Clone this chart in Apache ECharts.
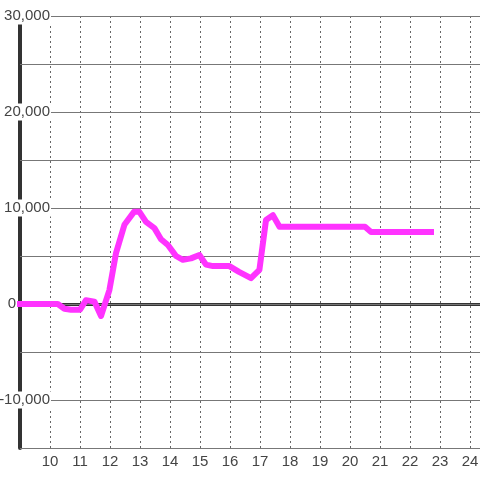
<!DOCTYPE html>
<html>
<head>
<meta charset="utf-8">
<script src="https://cdn.jsdelivr.net/npm/echarts@6/dist/echarts.min.js"></script>
<style>
  html, body { margin: 0; padding: 0; background: #fff; }
  #chart { width: 480px; height: 480px; }
</style>
</head>
<body>
<div id="chart"></div>
<script>
// values
const xValues = [9, 10.26, 10.48, 10.7, 11.0, 11.2, 11.48, 11.7, 11.98, 12.2, 12.48, 12.8, 12.98,
  13.2, 13.48, 13.7, 13.93, 14.2, 14.43, 14.7, 14.98, 15.2, 15.43, 15.98, 16.3, 16.7, 16.98,
  17.2, 17.43, 17.65, 20.5, 20.7, 22.7];
const yValues = [0, 0, -500, -600, -600, 400, 250, -1250, 1450, 5300, 8250, 9600, 9600,
  8550, 7900, 6750, 6150, 5000, 4600, 4750, 5100, 4100, 3950, 3950, 3350, 2700, 3550,
  8750, 9250, 8050, 8050, 7500, 7500];
const xTicks = [10, 11, 12, 13, 14, 15, 16, 17, 18, 19, 20, 21, 22, 23, 24];
const yTicks = [-10000, 0, 10000, 20000, 30000];

const chart = echarts.init(document.getElementById("chart"));
const font = "'Liberation Sans', Arial, sans-serif";

const option = {
  animation: false,
  backgroundColor: "#fff",
  grid: { left: 20, right: 0, top: 16, bottom: 32, containLabel: false, outerBoundsMode: "none" },
  xAxis: [
    {
      type: "value",
      min: 9,
      max: 24.3333,
      interval: 1,
      axisLine: { onZero: false, lineStyle: { color: "#777", width: 1 } },
      axisTick: { show: false },
      axisLabel: {
        margin: 6,
        color: "#444",
        fontSize: 15,
        fontFamily: font,
        formatter: (v) => (xTicks.includes(v) ? String(v) : ""),
      },
      splitLine: { show: true, lineStyle: { color: "#666", type: [2, 3], width: 1 } },
    },
    {
      // thick zero line
      type: "value",
      position: "top",
      min: 9,
      max: 24.3333,
      axisLine: { onZero: true, lineStyle: { color: "#333", width: 3 } },
      axisTick: { show: false },
      axisLabel: { show: false },
      splitLine: { show: false },
    },
  ],
  yAxis: [
    {
      // labels and grid, drawn above the thick axis line
      type: "value",
      position: "left",
      min: -15000,
      max: 30000,
      interval: 5000,
      z: 5,
      axisLine: { show: false },
      axisTick: { show: false },
      axisLabel: {
        margin: -31,
        align: "right",
        color: "#444",
        fontSize: 15,
        fontFamily: font,
        formatter: (v) => {
          if (!yTicks.includes(v)) return "";
          if (v === 0) return "{z|0}";
          return "{a|" + echarts.format.addCommas(v) + "}";
        },
        rich: {
          a: { color: "#444", fontSize: 15, fontFamily: font, backgroundColor: "#fff", padding: [1, 1, 1, 2] },
          z: { color: "#444", fontSize: 15, fontFamily: font, padding: [0, 35, 0, 0] },
        },
      },
      splitLine: { show: true, lineStyle: { color: "#777", width: 1 } },
    },
    {
      // thick left axis line
      type: "value",
      position: "right",
      offset: -460,
      min: -15000,
      max: 30000,
      z: 1,
      axisLine: { show: true, onZero: false, lineStyle: { color: "#333", width: 4 } },
      axisTick: { show: false },
      axisLabel: { show: false },
      splitLine: { show: false },
    },
  ],
  series: [
    {
      type: "line",
      xAxisIndex: 0,
      yAxisIndex: 0,
      data: xValues.map((x, i) => [x, yValues[i]]),
      showSymbol: false,
      clip: false,
      lineStyle: { color: "#ff33ff", width: 6, cap: "square", join: "round" },
      z: 10,
    },
  ],
};
chart.setOption(option);
</script>
</body>
</html>
